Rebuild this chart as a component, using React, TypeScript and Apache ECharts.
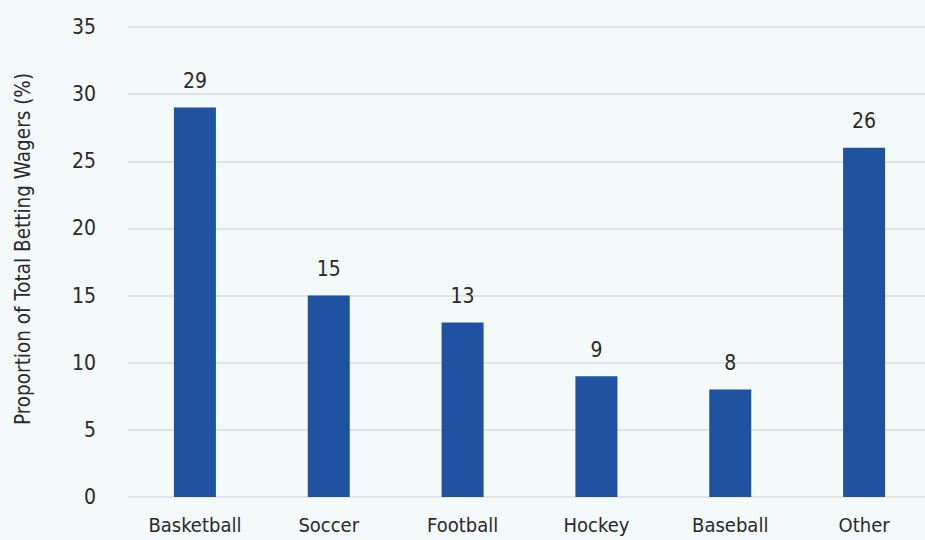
import React, { useEffect, useRef } from "react";
import * as echarts from "echarts";

const categories = ["Basketball", "Soccer", "Football", "Hockey", "Baseball", "Other"];
const values = [29, 15, 13, 9, 8, 26];
const yTicks = { min: 0, max: 35, interval: 5 };
const yTitle = "Proportion of Total Betting Wagers (%)";

const FONT = "'DejaVu Sans Condensed', 'Liberation Sans Narrow', sans-serif";

export default function App() {
  const ref = useRef<HTMLDivElement>(null);
  useEffect(() => {
    if (!ref.current) return;
    const chart = echarts.init(ref.current, undefined, { renderer: "svg" });
    chart.setOption({
      animation: false,
      backgroundColor: "#f4f9fa",
      grid: { left: 128, width: 803, top: 27, bottom: 43, outerBoundsMode: "none", containLabel: false },
      graphic: [
        {
          type: "text",
          x: 23,
          y: 249,
          rotation: Math.PI / 2,
          style: {
            text: yTitle,
            fill: "#2a2a2a",
            fontSize: 20.5,
            fontFamily: FONT,
            textAlign: "center",
            textVerticalAlign: "middle",
          },
        },
      ],
      xAxis: {
        type: "category",
        data: categories,
        axisLine: { show: false },
        axisTick: { show: false },
        axisLabel: { color: "#2a2a2a", fontSize: 20, fontFamily: FONT, margin: 18, interval: 0 },
      },
      yAxis: {
        type: "value",
        min: yTicks.min,
        max: yTicks.max,
        interval: yTicks.interval,
        axisLine: { show: false },
        axisTick: { show: false },
        axisLabel: { color: "#2a2a2a", fontSize: 21, fontFamily: FONT, margin: 32 },
        splitLine: { lineStyle: { color: "#dcdee2", width: 1.5 } },
      },
      series: [
        {
          type: "bar",
          data: values,
          barWidth: 42,
          itemStyle: { color: "#1f52a0" },
          label: {
            show: true,
            position: "top",
            distance: 16,
            color: "#2a2a2a",
            fontSize: 21,
            fontFamily: FONT,
          },
        },
      ],
    });
    return () => chart.dispose();
  }, []);
  return <div ref={ref} style={{ width: 925, height: 540, position: "absolute", left: 0, top: 0 }} />;
}
